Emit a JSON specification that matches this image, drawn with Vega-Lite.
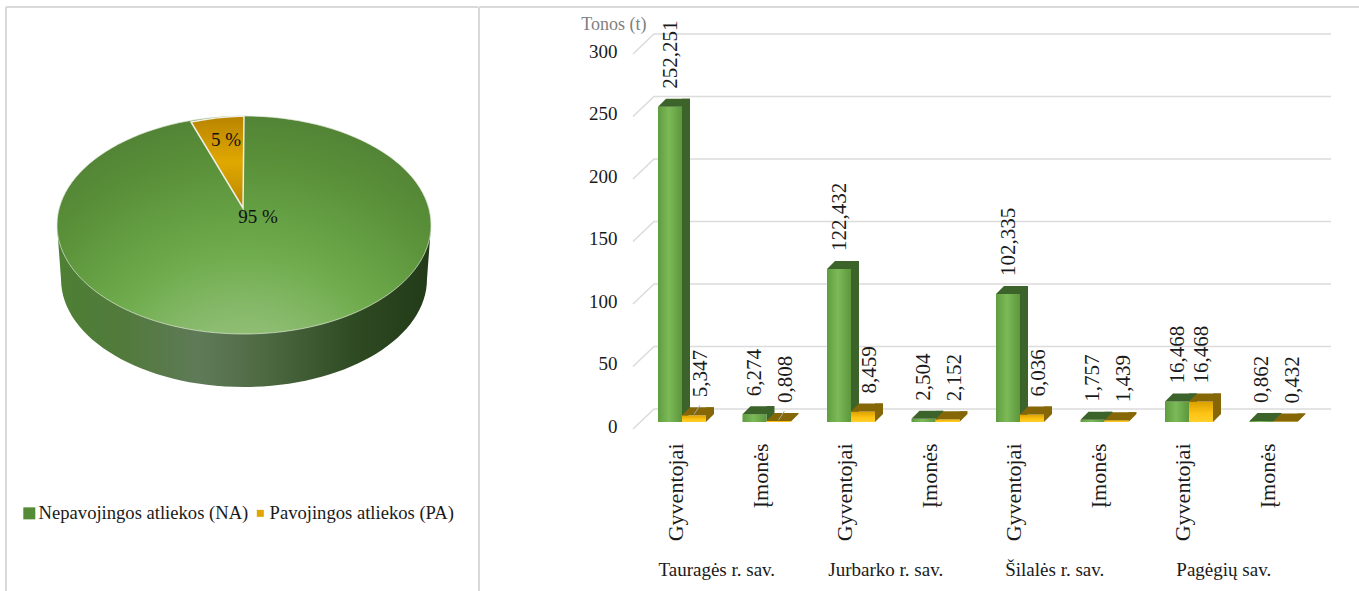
{
"$schema":"https://vega.github.io/schema/vega-lite/v6.json",
"padding":{"left":5,"top":6,"right":0,"bottom":0},
"background":"white",
"spacing":-2,
"resolve":{"scale":{"color":"independent","size":"independent","x":"independent","y":"independent"}},
"config":{"view":{"stroke":null},"font":"Liberation Serif","text":{"font":"Liberation Serif"}},
"datasets":{
"pie":[{"category":"Nepavojingos atliekos (NA)","share":95,"label":"95 %"},{"category":"Pavojingos atliekos (PA)","share":5,"label":"5 %"}],
"ticks":[{"tick":0},{"tick":50},{"tick":100},{"tick":150},{"tick":200},{"tick":250},{"tick":300}],
"frame":[{"edge":"frame"}],
"bars":[
{"municipality":"Tauragės r. sav.","type":"Gyventojai","slot":"Tauragės r. sav.|Gyventojai","series":"NA","value":252.251,"label":"252,251"},
{"municipality":"Tauragės r. sav.","type":"Gyventojai","slot":"Tauragės r. sav.|Gyventojai","series":"PA","value":5.347,"label":"5,347"},
{"municipality":"Tauragės r. sav.","type":"Įmonės","slot":"Tauragės r. sav.|Įmonės","series":"NA","value":6.274,"label":"6,274"},
{"municipality":"Tauragės r. sav.","type":"Įmonės","slot":"Tauragės r. sav.|Įmonės","series":"PA","value":0.808,"label":"0,808"},
{"municipality":"Jurbarko r. sav.","type":"Gyventojai","slot":"Jurbarko r. sav.|Gyventojai","series":"NA","value":122.432,"label":"122,432"},
{"municipality":"Jurbarko r. sav.","type":"Gyventojai","slot":"Jurbarko r. sav.|Gyventojai","series":"PA","value":8.459,"label":"8,459"},
{"municipality":"Jurbarko r. sav.","type":"Įmonės","slot":"Jurbarko r. sav.|Įmonės","series":"NA","value":2.504,"label":"2,504"},
{"municipality":"Jurbarko r. sav.","type":"Įmonės","slot":"Jurbarko r. sav.|Įmonės","series":"PA","value":2.152,"label":"2,152"},
{"municipality":"Šilalės r. sav.","type":"Gyventojai","slot":"Šilalės r. sav.|Gyventojai","series":"NA","value":102.335,"label":"102,335"},
{"municipality":"Šilalės r. sav.","type":"Gyventojai","slot":"Šilalės r. sav.|Gyventojai","series":"PA","value":6.036,"label":"6,036"},
{"municipality":"Šilalės r. sav.","type":"Įmonės","slot":"Šilalės r. sav.|Įmonės","series":"NA","value":1.757,"label":"1,757"},
{"municipality":"Šilalės r. sav.","type":"Įmonės","slot":"Šilalės r. sav.|Įmonės","series":"PA","value":1.439,"label":"1,439"},
{"municipality":"Pagėgių sav.","type":"Gyventojai","slot":"Pagėgių sav.|Gyventojai","series":"NA","value":16.468,"label":"16,468"},
{"municipality":"Pagėgių sav.","type":"Gyventojai","slot":"Pagėgių sav.|Gyventojai","series":"PA","value":16.468,"label":"16,468"},
{"municipality":"Pagėgių sav.","type":"Įmonės","slot":"Pagėgių sav.|Įmonės","series":"NA","value":0.862,"label":"0,862"},
{"municipality":"Pagėgių sav.","type":"Įmonės","slot":"Pagėgių sav.|Įmonės","series":"PA","value":0.432,"label":"0,432"}
]
},
"hconcat":[
{
"width":472,"height":584,
"data":{"name":"pie"},
"layer":[
{"data":{"name":"frame"},"mark":{"type":"rule","color":"#d9d9d9","strokeWidth":2},"encoding":{"x":{"value":0}}},
{"data":{"name":"frame"},"mark":{"type":"rule","color":"#d9d9d9","strokeWidth":2},"encoding":{"y":{"value":0}}},
{"mark":{"type":"point","filled":true,"shape":"square","opacity":1},
 "encoding":{
  "color":{"field":"category","type":"nominal","scale":{"range":["#548b36","#e0a500"]},
   "legend":{"title":null,"orient":"none","legendX":14,"legendY":497,"direction":"horizontal","columns":2,"columnPadding":2,"symbolType":"square","symbolOpacity":1,"labelFontSize":18.6,"labelFont":"Liberation Serif","labelColor":"#1a1a1a","labelLimit":300,"labelOffset":0}},
  "size":{"field":"category","type":"nominal","scale":{"range":[144,49]}}}},
{"transform":[{"filter":"datum.share==95"}],
 "mark":{"type":"point","filled":true,"opacity":1,"size":4,"strokeWidth":0,
  "shape":"M-185,-74 L-181,-20 A183,108 0 0,0 185,-20 L189,-74 Z",
  "fill":{"gradient":"linear","x1":0,"y1":0,"x2":1,"y2":0,"stops":[{"offset":0,"color":"#4d8034"},{"offset":0.18,"color":"#527a3c"},{"offset":0.38,"color":"#5f7a58"},{"offset":0.55,"color":"#4e6a42"},{"offset":0.8,"color":"#2e4a22"},{"offset":1,"color":"#223a18"}]}}},
{"transform":[{"filter":"datum.share==95"}],
 "mark":{"type":"point","filled":true,"opacity":1,"size":4,"stroke":"#dfe8d6","strokeWidth":0.7,
  "shape":"M-185,-74 A187,109 0 1,1 189,-74 A187,109 0 1,1 -185,-74 Z",
  "fill":{"gradient":"radial","x1":0.5,"y1":1,"r1":0,"x2":0.5,"y2":1,"r2":0.95,"stops":[{"offset":0,"color":"#a3c88c"},{"offset":0.25,"color":"#8cbc70"},{"offset":0.45,"color":"#6fac4d"},{"offset":0.7,"color":"#5a9139"},{"offset":1,"color":"#4a7432"}]}}},
{"transform":[{"filter":"datum.share==5"}],
 "mark":{"type":"point","filled":true,"opacity":1,"size":4,"stroke":"#efeee0","strokeWidth":1.5,
  "shape":"M1,-91 L2,-183 A187,109 0 0,0 -51,-177 Z",
  "fill":{"gradient":"linear","x1":0,"y1":0,"x2":0,"y2":1,"stops":[{"offset":0,"color":"#b88400"},{"offset":0.5,"color":"#e0a800"},{"offset":1,"color":"#b98600"}]}}},
{"transform":[{"filter":"datum.share==95"}],"mark":{"type":"text","font":"Liberation Serif","fontSize":19,"color":"#111111","dx":16,"dy":-82},"encoding":{"text":{"field":"label"}}},
{"transform":[{"filter":"datum.share==5"}],"mark":{"type":"text","font":"Liberation Serif","fontSize":19,"color":"#111111","dx":-16,"dy":-159},"encoding":{"text":{"field":"label"}}}
]
},
{
"width":881,"height":584,
"layer":[
{"data":{"name":"frame"},"mark":{"type":"rule","color":"#d9d9d9","strokeWidth":2},"encoding":{"x":{"value":0}}},
{"data":{"name":"frame"},"mark":{"type":"rule","color":"#d9d9d9","strokeWidth":2},"encoding":{"y":{"value":0}}},
{"data":{"name":"ticks"},
 "mark":{"type":"point","filled":false,"opacity":1,"size":4,"stroke":"#dcdcdc","strokeWidth":1.6,"shape":"M-49,7 L-28,-13 L649,-13"},
 "encoding":{
  "x":{"datum":"Tauragės r. sav.|Gyventojai","type":"nominal","scale":{"domain":["Tauragės r. sav.|Gyventojai","Tauragės r. sav.|Įmonės","Jurbarko r. sav.|Gyventojai","Jurbarko r. sav.|Įmonės","Šilalės r. sav.|Gyventojai","Šilalės r. sav.|Įmonės","Pagėgių sav.|Gyventojai","Pagėgių sav.|Įmonės"],"range":[160.75,836.75],"paddingInner":0,"paddingOuter":0},
   "axis":{"title":null,"orient":"bottom","offset":-148,"domain":false,"ticks":false,"labelPadding":0,"labelAngle":-90,"labelAlign":"right","labelBaseline":"middle","labelOffset":-6,"labelFont":"Liberation Serif","labelFontSize":22,"labelColor":"#1a1a1a","labelOverlap":false,"labelExpr":"split(datum.value,'|')[1]"}},
  "y":{"field":"tick","type":"quantitative","scale":{"domain":[0,300],"range":[415,40],"nice":false},
   "axis":{"orient":"left","offset":-140,"domain":false,"ticks":false,"grid":false,"values":[0,50,100,150,200,250,300],"labelPadding":2,"labelOffset":4,"labelFont":"Liberation Serif","labelFontSize":19,"labelColor":"#1a1a1a","title":"Tonos (t)","titleFont":"Liberation Serif","titleFontWeight":"normal","titleFontSize":18,"titleColor":"#7f7f7f","titleAngle":0,"titleAlign":"right","titleBaseline":"middle","titleX":27,"titleY":17}}
 }},
{"data":{"name":"bars"},
 "encoding":{
  "x":{"field":"slot","type":"nominal","sort":null,"scale":{"domain":["Tauragės r. sav.|Gyventojai","Tauragės r. sav.|Įmonės","Jurbarko r. sav.|Gyventojai","Jurbarko r. sav.|Įmonės","Šilalės r. sav.|Gyventojai","Šilalės r. sav.|Įmonės","Pagėgių sav.|Gyventojai","Pagėgių sav.|Įmonės"],"range":[160.75,836.75],"paddingInner":0,"paddingOuter":0}},
  "xOffset":{"field":"series","type":"nominal","scale":{"domain":["NA","PA"],"paddingInner":0,"paddingOuter":0.76}},
  "y":{"field":"value","type":"quantitative","scale":{"domain":[0,300],"range":[415,40],"nice":false}}
 },
 "layer":[
 {"transform":[{"filter":"datum.series=='NA'"}],
  "mark":{"type":"rule","strokeWidth":8,"color":"#3c6329","yOffset":-8,"y2Offset":-8},
  "encoding":{"xOffset":{"value":46.25},"y2":{"datum":0}}},
 {"transform":[{"filter":"datum.series=='PA'"}],
  "mark":{"type":"rule","strokeWidth":8,"color":"#856708","yOffset":-8,"y2Offset":-8},
  "encoding":{"xOffset":{"value":70.25},"y2":{"datum":0}}},
 {"mark":{"type":"point","filled":true,"opacity":1,"size":4,"strokeWidth":0,"shape":"M12,0 L20,-8 L12,-8 Z"},
  "encoding":{"y":{"datum":0,"type":"quantitative","scale":{"domain":[0,300],"range":[415,40],"nice":false}},"color":{"field":"series","type":"nominal","scale":{"domain":["NA","PA"],"range":["#3c6329","#856708"]},"legend":null}}},
 {"transform":[{"filter":"datum.series=='NA'"}],
  "mark":{"type":"bar","fill":{"gradient":"linear","x1":0,"y1":0,"x2":1,"y2":0,"stops":[{"offset":0,"color":"#5f9c3f"},{"offset":0.45,"color":"#7cba58"},{"offset":1,"color":"#5c973c"}]}}},
 {"transform":[{"filter":"datum.series=='PA'"}],
  "mark":{"type":"bar","fill":{"gradient":"linear","x1":0,"y1":0,"x2":0,"y2":1,"stops":[{"offset":0,"color":"#d9a000"},{"offset":0.6,"color":"#ffc414"},{"offset":1,"color":"#ffcf2a"}]}}},
 {"mark":{"type":"point","filled":true,"opacity":1,"size":4,"strokeWidth":0,"shape":"M-12,0 L-4,-8 L20,-8 L12,0 Z"},
  "encoding":{"color":{"field":"series","type":"nominal","scale":{"domain":["NA","PA"],"range":["#3c6329","#856708"]},"legend":null}}},
 {"transform":[{"filter":"datum.value==5.347||datum.value==0.808"}],
  "mark":{"type":"point","filled":false,"opacity":1,"size":4,"stroke":"#a6a6a6","strokeWidth":1,"shape":"M0,-1 L6,-10"}},
 {"transform":[{"filter":"datum.series=='NA'"}],
  "mark":{"type":"text","angle":270,"align":"left","baseline":"middle","dx":18,"dy":1,"font":"Liberation Serif","fontSize":21,"color":"#1a1a1a"},
  "encoding":{"text":{"field":"label"}}},
 {"transform":[{"filter":"datum.series=='PA'&&datum.value<16"}],
  "mark":{"type":"text","angle":270,"align":"left","baseline":"middle","dx":18,"dy":7,"font":"Liberation Serif","fontSize":21,"color":"#1a1a1a"},
  "encoding":{"text":{"field":"label"}}},
 {"transform":[{"filter":"datum.series=='PA'&&datum.value>16"}],
  "mark":{"type":"text","angle":270,"align":"left","baseline":"middle","dx":18,"dy":1,"font":"Liberation Serif","fontSize":21,"color":"#1a1a1a"},
  "encoding":{"text":{"field":"label"}}},
 {"transform":[{"filter":"datum.type=='Gyventojai'&&datum.series=='NA'"}],
  "mark":{"type":"text","align":"center","baseline":"middle","dx":77,"font":"Liberation Serif","fontSize":19,"color":"#1a1a1a"},
  "encoding":{"xOffset":{"value":0},"y":{"datum":-118,"type":"quantitative","scale":{"domain":[0,300],"range":[415,40],"nice":false}},"text":{"field":"municipality"}}}
 ]
}
]
}
]
}
